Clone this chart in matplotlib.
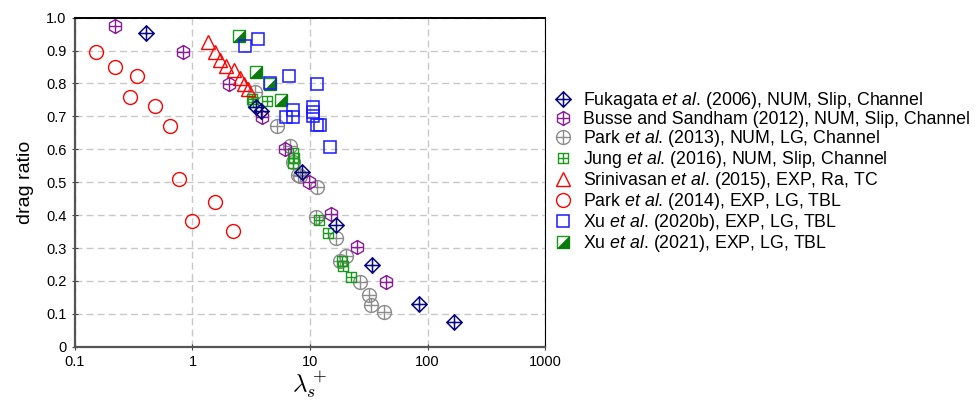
import numpy as np
import matplotlib
matplotlib.use("Agg")
from matplotlib import pyplot as plt
from matplotlib.path import Path

plt.rcParams['font.family'] = ['Liberation Sans', 'DejaVu Sans']
plt.rcParams['mathtext.fontset'] = 'custom'
plt.rcParams['mathtext.rm'] = 'Liberation Sans'
plt.rcParams['mathtext.it'] = 'Liberation Sans:italic'

# data (lambda_s+, drag ratio)
fuka_x = [0.40, 3.5, 3.8, 8.5, 16.8, 34, 85, 169]
fuka_y = [0.953, 0.727, 0.715, 0.532, 0.370, 0.250, 0.129, 0.074]

busse_x = [0.22, 0.83, 2.06, 3.87, 6.1, 9.8, 15.2, 25.1, 44.6]
busse_y = [0.975, 0.897, 0.797, 0.699, 0.601, 0.500, 0.403, 0.304, 0.198]

park13_x = [3.4, 5.2, 6.8, 7.2, 7.9, 8.2, 11.4, 11.3, 16.6, 17.9, 20.4, 26.5, 32, 33.3, 43]
park13_y = [0.775, 0.672, 0.610, 0.560, 0.522, 0.520, 0.486, 0.395, 0.330, 0.262, 0.276, 0.198, 0.157, 0.127, 0.107]

jung_x = [3.2, 3.3, 4.3, 7.2, 7.3, 7.2, 11.9, 14.2, 18.9, 19.0, 22.2]
jung_y = [0.753, 0.745, 0.747, 0.588, 0.573, 0.557, 0.385, 0.347, 0.260, 0.245, 0.213]

srini_x = [1.36, 1.56, 1.72, 1.93, 2.27, 2.55, 2.76, 2.98]
srini_y = [0.927, 0.894, 0.872, 0.853, 0.841, 0.816, 0.799, 0.783]

park14_x = [0.151, 0.22, 0.336, 0.295, 0.48, 0.643, 0.77, 1.0, 1.56, 2.22]
park14_y = [0.895, 0.851, 0.824, 0.758, 0.730, 0.671, 0.511, 0.381, 0.440, 0.353]

xu20_x = [2.8, 3.6, 4.56, 6.6, 11.4, 7.2, 6.3, 7.2, 10.6, 10.6, 10.6, 11.4, 12.1, 14.7]
xu20_y = [0.915, 0.935, 0.802, 0.824, 0.798, 0.719, 0.697, 0.697, 0.728, 0.713, 0.701, 0.674, 0.674, 0.608]

xu21_x = [2.5, 3.5, 4.56, 5.65]
xu21_y = [0.945, 0.836, 0.798, 0.750]

labels = [
    r"Fukagata $\it{et\ al}$. (2006), NUM, Slip, Channel",
    r"Busse and Sandham (2012), NUM, Slip, Channel",
    r"Park $\it{et\ al}$. (2013), NUM, LG, Channel",
    r"Jung $\it{et\ al}$. (2016), NUM, Slip, Channel",
    r"Srinivasan $\it{et\ al}$. (2015), EXP, Ra, TC",
    r"Park $\it{et\ al}$. (2014), EXP, LG, TBL",
    r"Xu $\it{et\ al}$. (2020b), EXP, LG, TBL",
    r"Xu $\it{et\ al}$. (2021), EXP, LG, TBL",
]


def with_plus(base, hx=1.0, hy=1.0):
    plus = Path([(-hx, 0), (hx, 0), (0, -hy), (0, hy)],
                [Path.MOVETO, Path.LINETO, Path.MOVETO, Path.LINETO])
    return Path.make_compound_path(base, plus)


diamond = Path([(0, 1), (1, 0), (0, -1), (-1, 0), (0, 1)], closed=True)
square = Path([(-1, -1), (1, -1), (1, 1), (-1, 1), (-1, -1)], closed=True)
half_tri = Path([(1, 1), (1, -1), (-1, -1), (1, 1)], closed=True)

m_diamond = with_plus(diamond)
m_circle = with_plus(Path.unit_circle())
m_hex = with_plus(Path.unit_regular_polygon(6), hx=0.866)
m_square = with_plus(square)

fig = plt.figure(figsize=(9.79, 4.0), dpi=100)
ax = fig.add_axes([0.0766, 0.133, 0.4801, 0.823])

h_park13, = ax.plot(park13_x, park13_y, ls='none', marker=m_circle, ms=10, mfc='none', mec='#8c8c8c', mew=1.0)
h_jung, = ax.plot(jung_x, jung_y, ls='none', marker=m_square, ms=7, mfc='none', mec='#1a9a1a', mew=1.0)
h_busse, = ax.plot(busse_x, busse_y, ls='none', marker=m_hex, ms=10, mfc='none', mec='#8b1a9b', mew=1.0)
h_fuka, = ax.plot(fuka_x, fuka_y, ls='none', marker=m_diamond, ms=11, mfc='none', mec='#0a0a80', mew=1.1)
h_srini, = ax.plot(srini_x, srini_y, ls='none', marker='^', ms=10, mfc='none', mec='red', mew=1.0)
h_park14, = ax.plot(park14_x, park14_y, ls='none', marker='o', ms=10, mfc='none', mec='red', mew=1.0)
h_xu21s, = ax.plot(xu21_x, xu21_y, ls='none', marker='s', ms=8, mfc='white', mec='#1a9a1a', mew=1.0)
h_xu21t, = ax.plot(xu21_x, xu21_y, ls='none', marker=half_tri, ms=8, mfc='#0a7a0a', mec='#0a7a0a', mew=0.5)
h_xu20, = ax.plot(xu20_x, xu20_y, ls='none', marker='s', ms=8, mfc='none', mec='#1a1aff', mew=1.1)

ax.set_xscale('log')
ax.set_xlim(0.1, 1000)
ax.set_ylim(0, 1.0)
ax.set_xticks([0.1, 1, 10, 100, 1000])
ax.set_xticklabels(['0.1', '1', '10', '100', '1000'])
ax.xaxis.set_minor_locator(matplotlib.ticker.NullLocator())
ax.set_yticks(np.arange(0, 1.01, 0.1))
ax.set_yticklabels(['0'] + ['%.1f' % v for v in np.arange(0.1, 1.01, 0.1)])
ax.tick_params(direction='inout', length=5, labelsize=10.5, color='#444444')
ax.grid(True, ls=(0, (5, 3)), color='#c8c8c8', lw=1.0)
ax.set_axisbelow(True)
for s in ['left', 'bottom']:
    ax.spines[s].set_color('#555555')
    ax.spines[s].set_linewidth(1.6)
ax.spines['top'].set_linewidth(1.4)
ax.spines['right'].set_linewidth(0.8)

ax.set_ylabel('drag ratio', fontsize=14, labelpad=9)
ax.set_xlabel(r'$\lambda_s^+$', fontsize=18, math_fontfamily='cm', labelpad=0)

handles = [h_fuka, h_busse, h_park13, h_jung, h_srini, h_park14, h_xu20, (h_xu21s, h_xu21t)]
fig.legend(handles, labels, loc='upper left', bbox_to_anchor=(0.566, 0.775),
           frameon=False, fontsize=12.8, handlelength=1.0, handletextpad=0.6,
           labelspacing=0.0, borderaxespad=0, borderpad=0, markerscale=1.0)

fig.savefig('out.png', dpi=100)
